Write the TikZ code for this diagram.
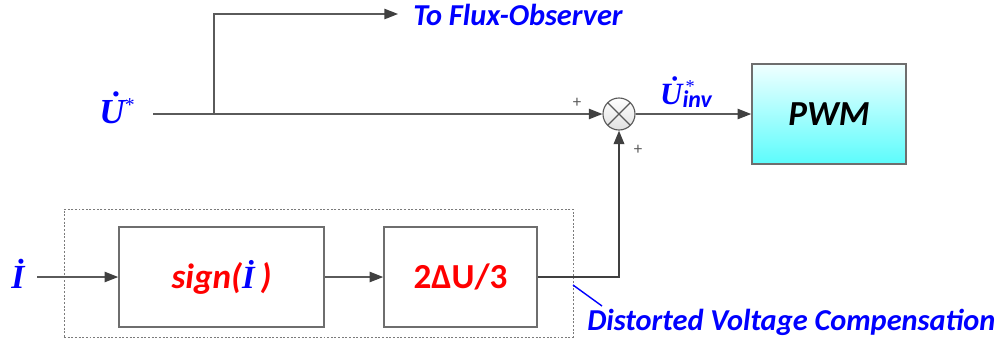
\documentclass[tikz,border=0pt]{standalone}
\usepackage{fontspec}
\setmainfont{Carlito}
\newfontfamily\phfont{Liberation Serif}
\usetikzlibrary{arrows.meta}

\definecolor{linegray}{HTML}{5A5A5A}
\definecolor{tipgray}{HTML}{404040}
\definecolor{boxgray}{HTML}{6E6E6E}
\definecolor{pwmtop}{HTML}{F0FFFF}
\definecolor{pwmbot}{HTML}{5CFCFC}

% phasor letters
\newcommand{\phU}{{\phfont\bfseries\itshape\accent"02D9 U}}
\newcommand{\phI}{{\phfont\bfseries\itshape İ}}

\tikzset{
	sig/.style = {draw=linegray, line width=0.9pt},
	arr/.style = {sig, -{Triangle[length=3.4mm, width=2.6mm, color=tipgray]}},
	block/.style = {draw=boxgray, line width=1.1pt, minimum height=2.5cm, inner sep=0pt},
	txt/.style = {inner sep=0pt, font=\bfseries\itshape\fontsize{21.6}{24}\selectfont},
}

\begin{document}
\begin{tikzpicture}[x=0.025cm, y=-0.025cm]
	\useasboundingbox (0,0) rectangle (1000,345);
	%\draw[help lines] (0,0) grid[step=50] (1000,345);

	\node [draw=linegray!80, line width=0.6pt, dash pattern=on 1.4pt off 1.2pt, minimum width=12.725cm, minimum height=3.2cm] (comp) at (318.5,273) {};
	\node [block, minimum width=5.125cm] (sgn) at (221.5,277)
		{\color{red}\bfseries\itshape\fontsize{25}{28}\selectfont sign(\textcolor{blue}{\fontsize{23}{26}\selectfont\phI}\,)};
	\node [block, minimum width=3.825cm] (du) at (460.5,277)
		{\color{red}\bfseries\fontsize{25}{28}\selectfont 2ΔU/3};
	\node [block, minimum width=3.85cm, top color=pwmtop, bottom color=pwmbot] (pwm) at (829,114)
		{\bfseries\itshape\fontsize{25}{28}\selectfont PWM};
	\node [circle, draw=linegray, line width=0.8pt, minimum size=0.8cm, top color=white, bottom color=black!12,
		path picture={\draw[linegray, line width=0.8pt] (path picture bounding box.north west) -- (path picture bounding box.south east)
			(path picture bounding box.north east) -- (path picture bounding box.south west);}] (sum) at (619,114) {};

	\node [inner sep=0pt, text=blue, font=\fontsize{25}{28}\selectfont] (ustar) at (117,108)
		{\phU\raisebox{0.75ex}{\phfont\fontsize{14}{14}\selectfont *}};
	\node [inner sep=0pt, text=blue, font=\fontsize{22}{26}\selectfont] (uinv) at (686,92)
		{\phU\rlap{\raisebox{0.8ex}{\phfont\fontsize{13}{13}\selectfont\,*}}\raisebox{-0.2ex}{\bfseries\itshape\fontsize{17}{17}\selectfont inv}};
	\node [inner sep=0pt, text=blue, font=\fontsize{24}{26}\selectfont] (iin) at (18,274) {\phI};
	\node [txt, text=blue, anchor=west] (flux) at (413,15) {To Flux-Observer};
	\node [txt, text=blue, anchor=west] (dvc) at (587,322) {Distorted Voltage Compensation};
	\node [inner sep=0pt, text=linegray, font=\fontsize{12}{12}\selectfont] (plusA) at (577,103) {+};
	\node [inner sep=0pt, text=linegray, font=\fontsize{12}{12}\selectfont] (plusB) at (638,150) {+};

	\coordinate (ustart) at (153,114);
	\coordinate (br) at (214,114);
	\coordinate (istart) at (37,277);
	\coordinate (fluxend) at (398,14);
	\coordinate (tagA) at (573,285);
	\coordinate (tagB) at (602,306);

	\draw [arr] (ustart) -- (sum.west);
	\draw [arr] (br) |- (fluxend);
	\draw [arr] (sum.east) -- (pwm.west);
	\draw [arr] (istart) -- (sgn.west);
	\draw [arr] (sgn.east) -- (du.west);
	\draw [arr, draw=tipgray, line width=1.7pt] (du.east) -| (sum.south);
	\draw [blue, line width=1pt] (tagA) -- (tagB);
\end{tikzpicture}
\end{document}
